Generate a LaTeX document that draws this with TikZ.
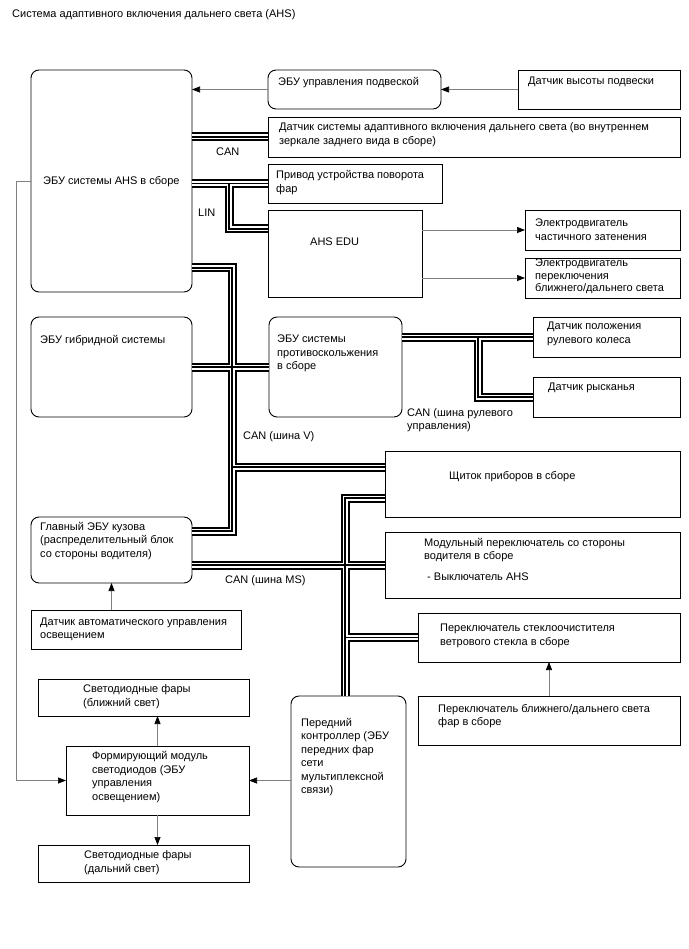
\documentclass[tikz,border=0pt]{standalone}
\usepackage{fontspec}
\setmainfont{Liberation Sans}
\usetikzlibrary{arrows.meta,calc}

\tikzset{
  box/.style={draw, line width=0.9pt, anchor=north west, inner sep=0pt, outer sep=0pt},
  rbox/.style={box, rounded corners=8pt},
  txt/.style={anchor=west, align=left, inner sep=0pt, font=\fontsize{11}{13.5}\selectfont},
  sig/.style={draw=black!50, line width=0.7pt, -{Triangle[length=8pt,width=6pt,black]}},
  busw/.style={line width=#1pt},
}

\begin{document}
\begin{tikzpicture}[x=1pt,y=-1pt]
\path[fill=white, use as bounding box] (0,0) rectangle (688,949);
\node[txt] (title) at (12,15) {Система адаптивного включения дальнего света (AHS)};
% blocks
\node[rbox, minimum width=161, minimum height=222] (ahs) at (31,70) {};
\node[rbox, minimum width=173, minimum height=39] (sus) at (268,70) {};
\node[box, minimum width=162, minimum height=39] (hs) at (518,70) {};
\node[box, minimum width=412, minimum height=40] (ahss) at (268,117) {};
\node[box, minimum width=174, minimum height=39] (act) at (268,164) {};
\node[box, minimum width=154, minimum height=87] (edu) at (268,210) {};
\node[box, minimum width=155, minimum height=40] (mot1) at (525,210) {};
\node[box, minimum width=155, minimum height=40] (mot2) at (525,258) {};
\node[rbox, minimum width=161, minimum height=100] (hyb) at (31,317) {};
\node[rbox, minimum width=133, minimum height=100] (skid) at (269,317) {};
\node[box, minimum width=147, minimum height=40] (steer) at (533,317) {};
\node[box, minimum width=147, minimum height=40] (yaw) at (533,377) {};
\node[box, minimum width=295, minimum height=66] (clu) at (385,451) {};
\node[rbox, minimum width=161, minimum height=66] (body) at (31,517) {};
\node[box, minimum width=295, minimum height=66] (modsw) at (385,532) {};
\node[box, minimum width=210, minimum height=39] (als) at (31,610) {};
\node[box, minimum width=262, minimum height=49] (wip) at (418,613) {};
\node[box, minimum width=262, minimum height=49] (dim) at (418,696) {};
\node[rbox, minimum width=115, minimum height=171] (front) at (291,696) {};
\node[box, minimum width=211, minimum height=37] (low) at (38,679) {};
\node[box, minimum width=183, minimum height=69] (led) at (66,746) {};
\node[box, minimum width=211, minimum height=37] (high) at (38,845) {};
% texts
\node[txt] (t-ahs) at (43,182) {ЭБУ системы AHS в сборе};
\node[txt] (t-sus) at (278,83) {ЭБУ управления подвеской};
\node[txt] (t-hs) at (528,82) {Датчик высоты подвески};
\node[txt] (t-ahss) at (279,134.5) {Датчик системы адаптивного включения дальнего света (во внутреннем\\зеркале заднего вида в сборе)};
\node[txt] (t-act) at (276,182.5) {Привод устройства поворота\\фар};
\node[txt] (t-edu) at (310,242) {AHS EDU};
\node[txt] (t-mot1) at (535,229.5) {Электродвигатель\\частичного затенения};
\node[txt, font=\fontsize{11}{12.5}\selectfont] (t-mot2) at (535,276.5) {Электродвигатель\\переключения\\ближнего/дальнего света};
\node[txt] (t-hyb) at (40,341) {ЭБУ гибридной системы};
\node[txt] (t-skid) at (277,353.5) {ЭБУ системы\\противоскольжения\\в сборе};
\node[txt] (t-steer) at (547,334) {Датчик положения\\рулевого колеса};
\node[txt] (t-yaw) at (548,388) {Датчик рысканья};
\node[txt] (t-clu) at (449,477) {Щиток приборов в сборе};
\node[txt] (t-body) at (40,541) {Главный ЭБУ кузова\\(распределительный блок\\со стороны водителя)};
\node[txt] (t-modsw) at (424,550) {Модульный переключатель со стороны\\водителя в сборе};
\node[txt] (t-ahssw) at (427,577) {- Выключатель AHS};
\node[txt] (t-als) at (40,629.5) {Датчик автоматического управления\\освещением};
\node[txt] (t-wip) at (440,636) {Переключатель стеклоочистителя\\ветрового стекла в сборе};
\node[txt] (t-dim) at (438,716) {Переключатель ближнего/дальнего света\\фар в сборе};
\node[txt] (t-front) at (301,757) {Передний\\контроллер (ЭБУ\\передних фар\\сети\\мультиплексной\\связи)};
\node[txt] (t-low) at (83,696.5) {Светодиодные фары\\(ближний свет)};
\node[txt] (t-led) at (92,777) {Формирующий модуль\\светодиодов (ЭБУ\\управления\\освещением)};
\node[txt] (t-high) at (84,862.5) {Светодиодные фары\\(дальний свет)};
% bus labels
\node[txt] (l-can) at (216,152) {CAN};
\node[txt] (l-lin) at (198,213) {LIN};
\node[txt] (l-v) at (243,437) {CAN (шина V)};
\node[txt] (l-str) at (407,420) {CAN (шина рулевого\\управления)};
\node[txt] (l-ms) at (225,581) {CAN (шина MS)};
% bend points
\coordinate (linx) at (229,0);
\coordinate (vx) at (232,0);
\coordinate (msx) at (345,0);
\coordinate (stx) at (478,0);
\coordinate (eduin) at ($(edu.north west)+(0,19)$);
\coordinate (ahsv) at ($(ahs.north east)+(0,198)$);
\coordinate (bodyin) at ($(body.north east)+(0,14)$);
\coordinate (cluin) at ($(clu.north west)+(0,16)$);
\coordinate (cluout) at ($(clu.south west)+(0,-19)$);
% buses
\foreach \w/\c in {9/black,5/white,1.6/black}
  \draw[busw=\w, draw=\c]
    (ahss.west -| ahs.east) -- (ahss.west)
    (act.west -| ahs.east) -- (act.west)
    (linx |- act.west) |- (eduin)
    (ahsv) -| (vx |- bodyin) -- (bodyin)
    (hyb.east) -- (skid.west)
    (vx |- cluin) -- (cluin)
    (modsw.west -| body.east) -- (modsw.west)
    (cluout) -| (msx |- front.north)
    (msx |- wip.west) -- (wip.west)
    (steer.west -| skid.east) -- (steer.west)
    (stx |- steer.west) |- (yaw.west);
% signal lines
\draw[sig] (hs.west) -- (sus.east);
\draw[sig] (sus.west) -- (sus.west -| ahs.east);
\draw[sig] (mot1.west -| edu.east) -- (mot1.west);
\draw[sig] (mot2.west -| edu.east) -- (mot2.west);
\draw[sig] (als.north -| body.south) -- (body.south);
\draw[sig] (dim.north) -- (wip.south);
\draw[sig] (led.north) -- (led.north |- low.south);
\draw[sig] (led.south) -- (led.south |- high.north);
\draw[sig] (led.east -| front.west) -- (led.east);
\draw[sig] (ahs.west) -- ++(-15,0) |- (led.west);
\end{tikzpicture}
\end{document}
